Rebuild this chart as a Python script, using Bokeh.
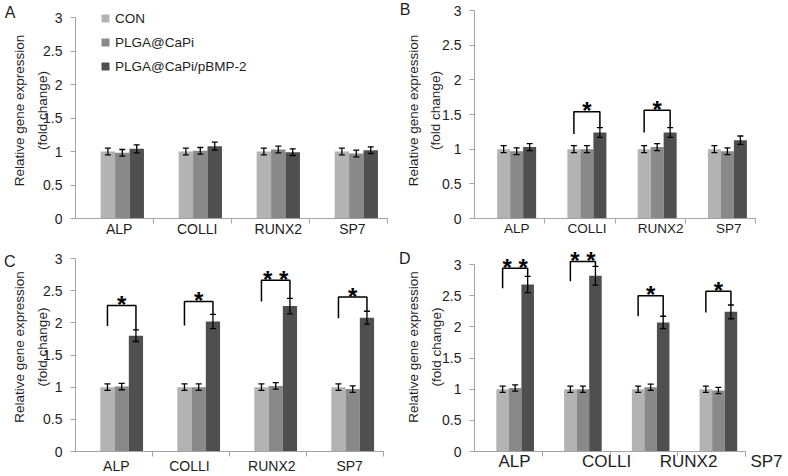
import numpy as np
from bokeh.plotting import figure
from bokeh.models import (Range1d, LinearAxis, FixedTicker, SingleIntervalTicker, NumeralTickFormatter,
                          CustomJSTickFormatter, ColumnDataSource, Whisker, TeeHead, Legend, LegendItem)
from bokeh.layouts import row, column
from bokeh.embed import file_html
from bokeh.resources import INLINE
from bokeh.core.properties import value

genes = ["ALP", "COLLI", "RUNX2", "SP7"]
groups = ["CON", "PLGA@CaPi", "PLGA@CaPi/pBMP-2"]

# Panel A
a_con = [1.00, 1.00, 1.00, 1.00]
a_capi = [0.98, 1.01, 1.03, 0.97]
a_bmp = [1.04, 1.08, 0.99, 1.02]
a_con_err = [0.05, 0.05, 0.05, 0.05]
a_capi_err = [0.05, 0.05, 0.05, 0.05]
a_bmp_err = [0.06, 0.06, 0.05, 0.05]

# Panel B
b_con = [1.00, 1.00, 1.00, 1.00]
b_capi = [0.97, 1.00, 1.03, 0.97]
b_bmp = [1.03, 1.24, 1.24, 1.13]
b_con_err = [0.05, 0.05, 0.05, 0.05]
b_capi_err = [0.05, 0.05, 0.05, 0.05]
b_bmp_err = [0.05, 0.07, 0.07, 0.06]
b_sig_idx = [1, 2]
b_sig_stars = [1, 1]
b_sig_top = [1.54, 1.56]
b_sig_leg = [1.22, 1.24]

# Panel C
c_con = [1.00, 1.00, 1.00, 1.00]
c_capi = [1.01, 1.00, 1.02, 0.97]
c_bmp = [1.80, 2.02, 2.26, 2.08]
c_con_err = [0.05, 0.05, 0.05, 0.05]
c_capi_err = [0.05, 0.05, 0.05, 0.05]
c_bmp_err = [0.09, 0.11, 0.12, 0.10]
c_sig_idx = [0, 1, 2, 3]
c_sig_stars = [1, 1, 2, 1]
c_sig_top = [2.27, 2.33, 2.66, 2.40]
c_sig_leg = [1.95, 1.96, 2.33, 2.07]

# Panel D
d_con = [1.00, 1.00, 1.00, 1.00]
d_capi = [1.02, 1.00, 1.03, 0.98]
d_bmp = [2.68, 2.82, 2.07, 2.24]
d_con_err = [0.05, 0.05, 0.05, 0.05]
d_capi_err = [0.05, 0.05, 0.05, 0.05]
d_bmp_err = [0.13, 0.15, 0.10, 0.11]
d_sig_idx = [0, 1, 2, 3]
d_sig_stars = [2, 2, 1, 1]
d_sig_top = [2.94, 3.05, 2.50, 2.57]
d_sig_leg = [2.62, 2.73, 2.17, 2.23]

FONT = "Liberation Sans"
TEXT = "#1e1e1e"
AXIS = "#a3a3a3"
BAR_COLORS = ["#b3b3b3", "#898989", "#4f4f4f"]
BAR_W = 0.185
GROUP_SHIFT = 0.1


def make_panel(letter, means, errs, sig, geo, show_legend=False):
    W, H = geo["W"], geo["H"]
    fl, fr, ft = geo["fl"], geo["fr"], geo["ft"]
    y3, y0 = geo["y3"], geo["y0"]
    ppu = (y0 - y3) / 3.0
    y_end = 3 + (y3 - ft) / ppu
    x_end = (fr - fl) / geo["ppx"]
    p = figure(width=W, height=H, x_range=Range1d(0, x_end), y_range=Range1d(0, y_end),
               output_backend="svg", toolbar_location=None,
               x_axis_location=None, y_axis_location=None,
               min_border_left=fl, min_border_right=W - fr, min_border_top=ft,
               min_border_bottom=H - y0)
    p.outline_line_color = None
    p.background_fill_color = "white"
    p.border_fill_color = "white"
    for g in p.grid:
        g.visible = False

    # y axes (two lines of title + panel letter)
    yax = LinearAxis(bounds=(0, 3), ticker=SingleIntervalTicker(interval=0.5, num_minor_ticks=0),
                     formatter=NumeralTickFormatter(format="0.[0]"),
                     axis_line_color=AXIS, major_tick_line_color=AXIS, major_tick_out=5, major_tick_in=0,
                     minor_tick_line_color=None,
                     major_label_text_font=FONT, major_label_text_font_size="14px",
                     major_label_text_color=TEXT, major_label_standoff=8,
                     axis_label="(fold change)", axis_label_text_font=FONT,
                     axis_label_text_font_size="13.5px", axis_label_text_font_style="normal",
                     axis_label_text_color=TEXT, axis_label_standoff=geo["s1"])
    p.add_layout(yax, "left")
    yax2 = LinearAxis(bounds=(0, 3), ticker=FixedTicker(ticks=[]), axis_line_color=None,
                      major_tick_line_color=None, minor_tick_line_color=None,
                      major_tick_out=0, major_tick_in=0, major_label_standoff=0,
                      axis_label="Relative gene expression", axis_label_text_font=FONT,
                      axis_label_text_font_size="13.5px", axis_label_text_font_style="normal",
                      axis_label_text_color=TEXT, axis_label_standoff=geo["s2"])
    p.add_layout(yax2, "left")
    y_letter = (y0 - geo["lc"]) / ppu
    yax3 = LinearAxis(ticker=FixedTicker(ticks=[y_letter]),
                      formatter=CustomJSTickFormatter(args=dict(t=letter), code="return t;"),
                      axis_line_color=None, major_tick_line_color=None, minor_tick_line_color=None,
                      major_tick_out=0, major_tick_in=0, major_label_standoff=geo["s3"],
                      major_label_text_font=FONT, major_label_text_font_size="16px",
                      major_label_text_color=TEXT)
    p.add_layout(yax3, "left")

    # x axes
    pos = geo["lab"]
    fmt = CustomJSTickFormatter(args=dict(pos=pos, labels=genes),
                                code="const i = pos.indexOf(tick); return i < 0 ? '' : labels[i];")
    bounds = list(range(1, len(genes) + 1))
    if geo.get("split_x", False):
        xline = LinearAxis(bounds=(0, len(genes)), ticker=FixedTicker(ticks=[], minor_ticks=bounds),
                           axis_line_color=AXIS, major_tick_line_color=None, minor_tick_line_color=AXIS,
                           minor_tick_out=5, minor_tick_in=0, major_tick_out=0, major_label_standoff=0)
        p.add_layout(xline, "below")
        xlab = LinearAxis(ticker=FixedTicker(ticks=pos), formatter=fmt, axis_line_color=None,
                          major_tick_line_color=None, minor_tick_line_color=None, major_tick_out=0,
                          minor_tick_out=0, major_label_standoff=geo["xstand"],
                          major_label_text_font=FONT,
                          major_label_text_font_size=geo["xfs"], major_label_text_color=TEXT)
        p.add_layout(xlab, "below")
    else:
        xax = LinearAxis(bounds=(0, len(genes)), ticker=FixedTicker(ticks=pos, minor_ticks=bounds),
                         formatter=fmt, axis_line_color=AXIS, major_tick_line_color=None,
                         minor_tick_line_color=AXIS, minor_tick_out=5, minor_tick_in=0,
                         major_tick_out=0, major_label_standoff=geo["xstand"],
                         major_label_text_font=FONT, major_label_text_font_size=geo["xfs"],
                         major_label_text_color=TEXT)
        p.add_layout(xax, "below")

    idx = np.arange(len(genes))
    rends = []
    for j in range(3):
        xs = idx + 0.5 + GROUP_SHIFT + (j - 1) * BAR_W
        m = np.array(means[j])
        e = np.array(errs[j])
        src = ColumnDataSource(dict(x=xs, top=m, lower=m - e, upper=m + e))
        r = p.vbar(x="x", top="top", bottom=0, width=BAR_W, source=src,
                   fill_color=BAR_COLORS[j], line_color=None)
        rends.append(r)
        p.add_layout(Whisker(source=src, base="x", lower="lower", upper="upper", dimension="height",
                             line_color="black", line_width=1.3, level="annotation",
                             upper_head=TeeHead(size=6, line_color="black", line_width=1.3),
                             lower_head=TeeHead(size=6, line_color="black", line_width=1.3)))

    if sig is not None:
        gi = np.array(sig["idx"])
        xl = gi + 0.5 + GROUP_SHIFT - BAR_W
        xr = gi + 0.5 + GROUP_SHIFT + BAR_W
        rb = [means[2][g] + errs[2][g] for g in gi]
        xs = [[a, a, b, b] for a, b in zip(xl, xr)]
        ys = [[l, t, t, r] for l, t, r in zip(sig["leg"], sig["top"], rb)]
        p.multi_line(xs, ys, line_color="black", line_width=1.5)
        p.text(x=(xl + xr) / 2, y=sig["top"], text=[" ".join("*" * n) for n in sig["stars"]],
               text_font=value(FONT), text_font_style="bold", text_font_size="24px",
               text_align="center", text_baseline="alphabetic", y_offset=-1, text_color="black")

    if show_legend:
        leg = Legend(items=[LegendItem(label=g, renderers=[r]) for g, r in zip(groups, rends)],
                     location=(25, geo["leg_y"]), glyph_width=10, glyph_height=10,
                     label_height=20, label_standoff=5, spacing=4, padding=0, margin=0,
                     border_line_color=None, background_fill_alpha=0,
                     label_text_font=FONT, label_text_font_size="13.5px", label_text_color=TEXT)
        p.add_layout(leg)
    return p


# layout geometry (pixels inside each figure); rows share top/bottom borders, columns share left/right
geoA = dict(W=394, H=240, fl=75, fr=387, ft=2, y3=17, y0=218, ppx=78.0, s1=-10, s2=6, s3=-7,
            lab=[0.56, 1.56, 2.60, 3.55], xfs="14px", xstand=-3, lc=12, leg_y=142)
geoB = dict(W=394, H=240, fl=80, fr=392, ft=2, y3=10, y0=218, ppx=70.25, s1=-4, s2=5, s3=-8,
            lab=[0.60, 1.60, 2.65, 3.62], xfs="13.5px", xstand=-3, lc=9)
geoC = dict(W=394, H=236, fl=75, fr=387, ft=2, y3=18, y0=211, ppx=77.0, s1=-10, s2=6, s3=-7,
            lab=[0.53, 1.48, 2.55, 3.56], xfs="14px", xstand=1, lc=21)
geoD = dict(W=394, H=236, fl=80, fr=392, ft=2, y3=24, y0=211, ppx=67.75, s1=-5, s2=6, s3=-8,
            lab=[0.59, 1.95, 3.16, 4.31], xfs="17px", xstand=-5, lc=18, split_x=True)

pA = make_panel("A", [a_con, a_capi, a_bmp], [a_con_err, a_capi_err, a_bmp_err], None, geoA, True)
pB = make_panel("B", [b_con, b_capi, b_bmp], [b_con_err, b_capi_err, b_bmp_err],
                dict(idx=b_sig_idx, stars=b_sig_stars, top=b_sig_top, leg=b_sig_leg), geoB)
pC = make_panel("C", [c_con, c_capi, c_bmp], [c_con_err, c_capi_err, c_bmp_err],
                dict(idx=c_sig_idx, stars=c_sig_stars, top=c_sig_top, leg=c_sig_leg), geoC)
pD = make_panel("D", [d_con, d_capi, d_bmp], [d_con_err, d_capi_err, d_bmp_err],
                dict(idx=d_sig_idx, stars=d_sig_stars, top=d_sig_top, leg=d_sig_leg), geoD)

layout = column(row(pA, pB), row(pC, pD))
open("out.html", "w").write(file_html(layout, INLINE))
